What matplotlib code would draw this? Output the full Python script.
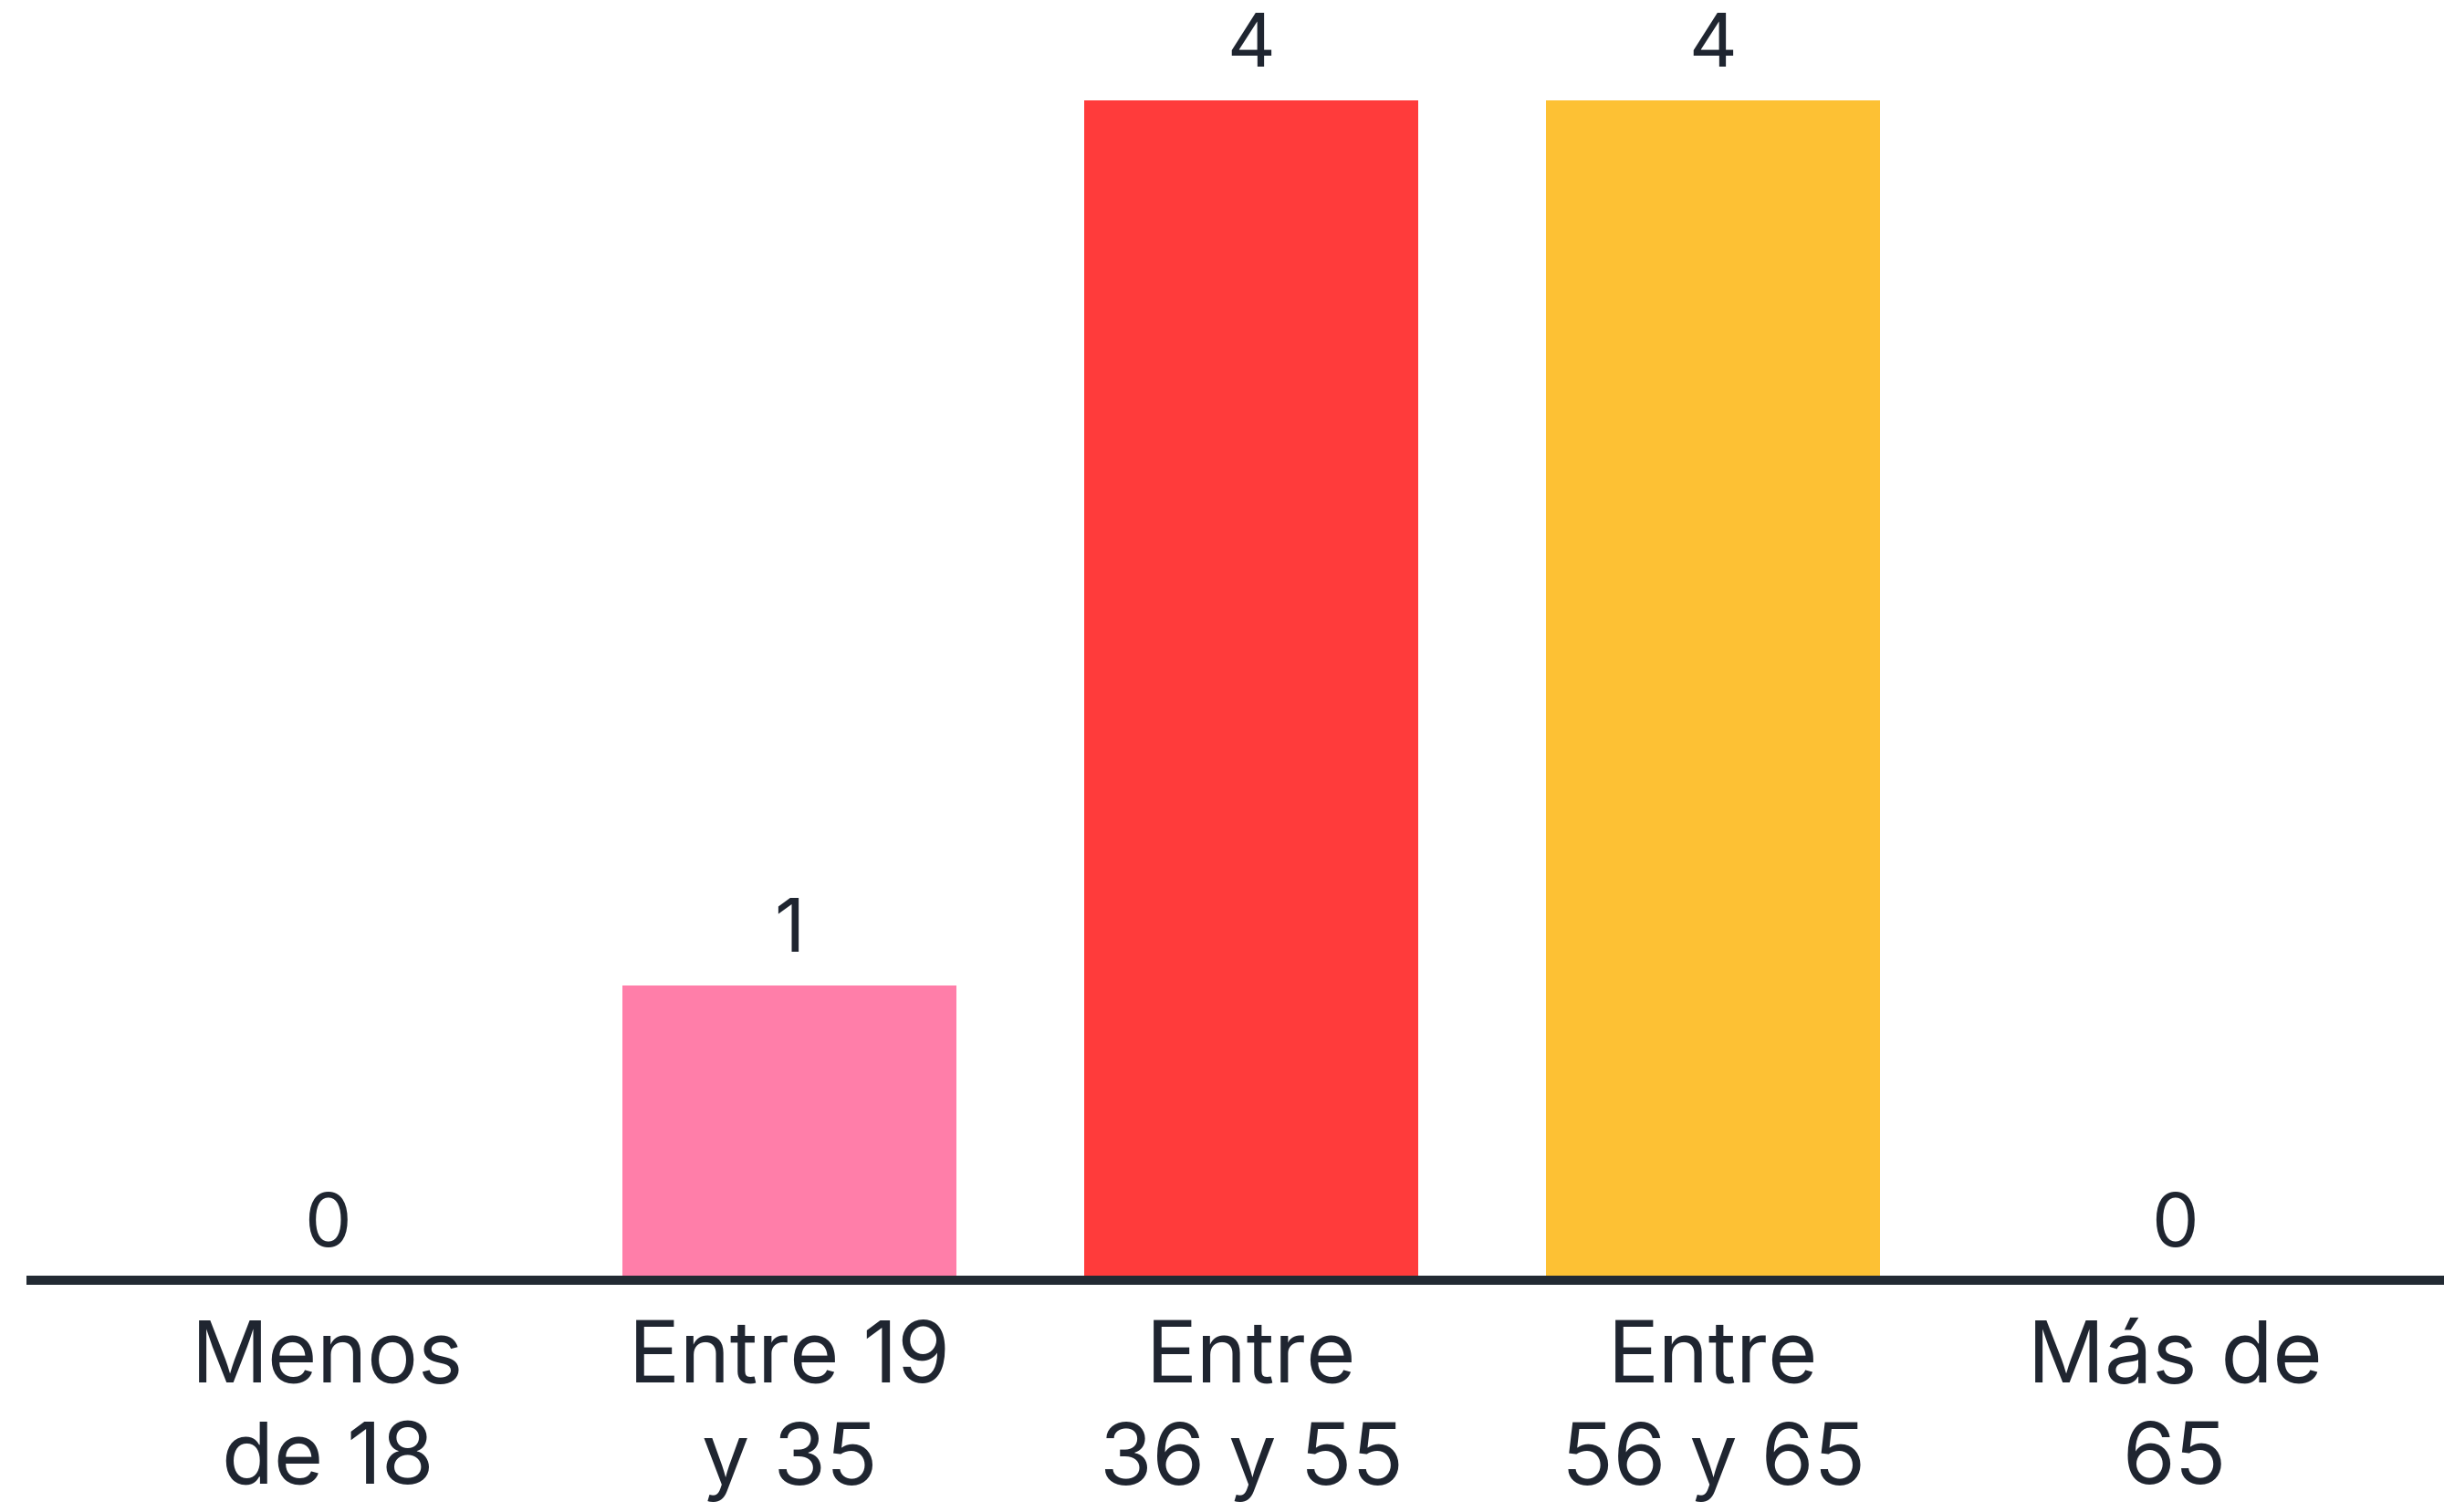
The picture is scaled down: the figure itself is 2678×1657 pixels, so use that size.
import matplotlib
matplotlib.use("Agg")
import matplotlib.pyplot as plt
import numpy as np

plt.rcParams['font.family'] = ['Inter', 'DejaVu Sans']

# data
categories = ["Menos\nde 18", "Entre 19\ny 35", "Entre\n36 y 55", "Entre\n56 y 65", "Más de\n65"]
values = [0, 1, 4, 4, 0]
colors = ["#7B61FF", "#FF7EA9", "#FF3B3B", "#FDC134", "#2EC4B6"]

text_color = "#1f2530"

fig = plt.figure(figsize=(26.78, 16.58), dpi=100)
ax = fig.add_axes([0, 0.1532, 1, 0.8468])

x = np.arange(len(categories))
bars = ax.bar(x, values, width=0.723, color=colors, zorder=1)

for xi, v in zip(x, values):
    ax.annotate(str(v), (xi, v), xytext=(0, 15), textcoords="offset points",
                ha="center", va="bottom", fontsize=59, color=text_color)

ax.set_xlim(-0.7095, 4.583)
ax.set_ylim(0, 4.343)

ax.set_xticks(x)
ax.set_xticklabels(categories, fontsize=67, color=text_color, linespacing=1.35)
ax.tick_params(axis="x", length=0, pad=31)
ax.set_yticks([])

for s in ["top", "right", "left"]:
    ax.spines[s].set_visible(False)
ax.spines["bottom"].set_linewidth(7.2)
ax.spines["bottom"].set_color("#222a33")
ax.spines["bottom"].set_bounds(-0.642, 4.583)
ax.spines["bottom"].set_zorder(3)

fig.savefig("out.png", dpi=100, facecolor="white")
